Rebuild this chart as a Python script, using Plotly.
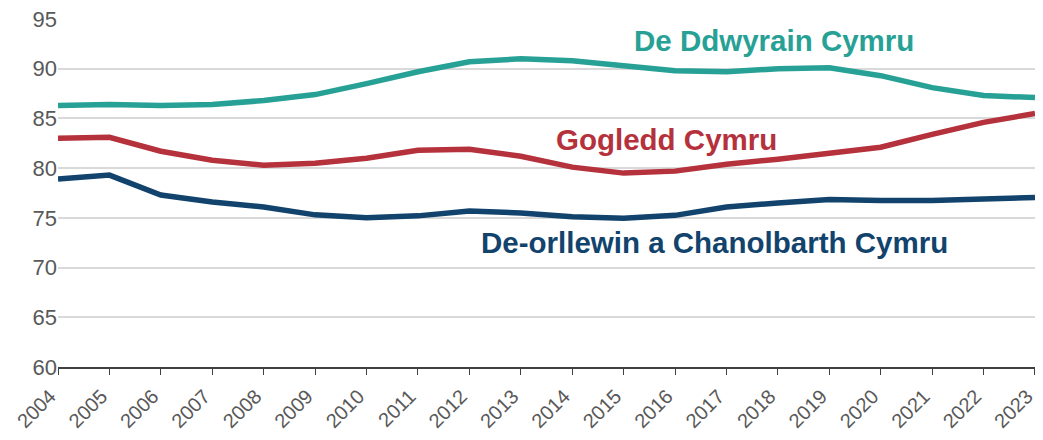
import plotly.graph_objects as go

years = list(range(2004, 2024))
de_ddwyrain = [86.3, 86.4, 86.3, 86.4, 86.8, 87.4, 88.5, 89.7, 90.7, 91.0,
               90.8, 90.3, 89.8, 89.7, 90.0, 90.1, 89.3, 88.1, 87.3, 87.1]
gogledd = [83.0, 83.1, 81.7, 80.8, 80.3, 80.5, 81.0, 81.8, 81.9, 81.2,
           80.1, 79.5, 79.7, 80.4, 80.9, 81.5, 82.1, 83.4, 84.6, 85.5]
de_orllewin = [78.9, 79.3, 77.3, 76.6, 76.1, 75.3, 75.0, 75.2, 75.7, 75.5,
               75.1, 74.95, 75.25, 76.1, 76.5, 76.85, 76.75, 76.75, 76.9, 77.05]

names = ["De Ddwyrain Cymru", "Gogledd Cymru", "De-orllewin a Chanolbarth Cymru"]
colors = ["#27a195", "#b5313c", "#12436d"]
series = [de_ddwyrain, gogledd, de_orllewin]
label_pos = [(2017.92, 92.8), (2015.84, 82.9), (2016.77, 72.5)]

fig = go.Figure()
for name, vals, col in zip(names, series, colors):
    fig.add_trace(go.Scatter(x=years, y=vals, mode="lines", name=name,
                             line=dict(color=col, width=5.5), showlegend=False))

for name, col, (lx, ly) in zip(names, colors, label_pos):
    fig.add_annotation(x=lx, y=ly, text=f"<b>{name}</b>", showarrow=False,
                       font=dict(color=col, size=29.5, family="Liberation Sans, Arial"),
                       xanchor="center", yanchor="middle")

fig.update_layout(
    width=1035, height=432,
    margin=dict(l=50, r=8, t=11, b=73),
    paper_bgcolor="white", plot_bgcolor="white",
    font=dict(family="Liberation Sans, Arial", color="#595959", size=21),
)
fig.update_xaxes(range=[2003.9999, 2023.0001], tickmode="array", tickvals=years,
                 ticktext=[str(y) for y in years], tickangle=-45,
                 showline=True, linecolor="#404040", linewidth=1.5,
                 ticks="outside", ticklen=6, tickcolor="#404040",
                 showgrid=False, zeroline=False, tickfont=dict(size=20),
                 automargin=False, ticklabeloverflow="allow",
                 ticklabelshift=-8, ticklabelstandoff=2)
fig.update_yaxes(range=[60, 95.0001], dtick=5, showgrid=True, gridcolor="#d9d9d9",
                 gridwidth=1.5, zeroline=False, showline=False, ticks="",
                 tickfont=dict(size=22), automargin=False,
                 ticklabeloverflow="allow")

fig.write_html("out.html")
